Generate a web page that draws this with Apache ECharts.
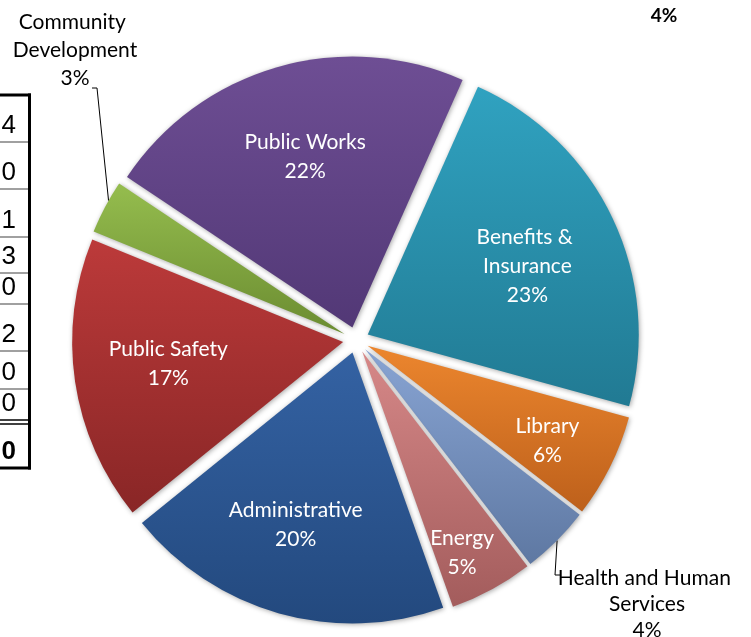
<!DOCTYPE html>
<html><head><meta charset="utf-8">
<script src="https://cdn.jsdelivr.net/npm/echarts@6/dist/echarts.min.js"></script>
<style>html,body{margin:0;padding:0;background:#fff}#c{width:751px;height:637px}</style>
</head><body><div id="c"></div>
<script>
// ---- data ----
const categories = ['Benefits & Insurance', 'Library', 'Health and Human Services', 'Energy',
  'Administrative', 'Public Safety', 'Community Development', 'Public Works'];
const shares = [22.6, 6.2, 4.1, 5.0, 19.6, 17.0, 3.2, 22.3];
const tableValues = ['4', '0', '1', '3', '0', '2', '0', '0', '0'];
const cornerNote = '4%';

// ---- styles ----
const sliceTop = ['#30A2C0', '#EC862E', '#88A4D3', '#D68888', '#3462A3', '#BC3A3A', '#95BD4E', '#6E4E94'];
const sliceBottom = ['#217A93', '#BD601B', '#5E78A2', '#A35C5C', '#23497E', '#892626', '#6B8C31', '#523876'];
const labelFrac = [0.64, 0.75, null, 0.83, 0.67, 0.65, null, 0.655];
const labelTurn = [2.3, 1.3, 0, 2.2, 2.5, 1.4, 0, 0.7];
const labelWidth = [110, null, 190, null, null, null, 135, null];
const outsideLabels = {
  2: { x: 647, y: 565, lh: 26, arcFrac: 0.49, bend: [[555, 575], [560, 575]] },
  6: { x: 75, y: 8, lh: 28, arcFrac: 0.63, bend: [[97, 88], [92, 88]] }
};

const CX = 356, CY = 340, R = 271, OFFSET = 13, START = 66;
const FONT = 'Lato';

function grad(a, b) {
  return { type: 'linear', x: 0, y: 0, x2: 0, y2: 1, colorStops: [{ offset: 0, color: a }, { offset: 1, color: b }] };
}
const total = shares.reduce((a, b) => a + b, 0);
function angleAt(i, frac) { // echarts-style degrees (ccw from east) at fraction of slice i
  let cum = 0;
  for (let k = 0; k < i; k++) cum += shares[k];
  return START - (cum + shares[i] * frac) / total * 360;
}
function dirOf(deg) { const a = deg * Math.PI / 180; return [Math.cos(a), -Math.sin(a)]; }

const pieData = categories.map((name, i) => {
  const outside = outsideLabels[i];
  const item = {
    name: name,
    value: shares[i],
    selected: true,
    itemStyle: { color: grad(sliceTop[i], sliceBottom[i]) },
    label: {
      position: outside ? 'outside' : 'inner',
      color: outside ? '#000' : '#fff',
      lineHeight: outside ? outside.lh : 29
    }
  };
  if (labelWidth[i]) { item.label.width = labelWidth[i]; item.label.overflow = 'break'; }
  if (outside) item.labelLine = { show: true, length: 10, length2: 6, lineStyle: { color: '#000', width: 1 } };
  return item;
});

// ---- table fragment on the left ----
const rowY = [95, 142, 189, 237, 273, 304, 351, 389, 420, 468];
const graphics = [];
for (let i = 1; i <= 7; i++) {
  graphics.push({ type: 'line', shape: { x1: 0, y1: rowY[i], x2: 28, y2: rowY[i] }, style: { stroke: '#A0A0A0', lineWidth: 2 } });
}
graphics.push({ type: 'line', shape: { x1: 0, y1: rowY[0], x2: 31, y2: rowY[0] }, style: { stroke: '#000', lineWidth: 3 } });
graphics.push({ type: 'line', shape: { x1: 0, y1: 420, x2: 31, y2: 420 }, style: { stroke: '#000', lineWidth: 1.5 } });
graphics.push({ type: 'line', shape: { x1: 0, y1: 424, x2: 31, y2: 424 }, style: { stroke: '#000', lineWidth: 1.5 } });
graphics.push({ type: 'line', shape: { x1: 0, y1: rowY[9], x2: 31, y2: rowY[9] }, style: { stroke: '#000', lineWidth: 3 } });
graphics.push({ type: 'line', shape: { x1: 29.5, y1: rowY[0] - 1.5, x2: 29.5, y2: rowY[9] + 1.5 }, style: { stroke: '#000', lineWidth: 3 } });
tableValues.forEach((v, i) => {
  graphics.push({
    type: 'text', x: 16, y: rowY[i + 1] - 3,
    style: { text: v, align: 'right', verticalAlign: 'bottom', fill: '#000',
      font: (i === tableValues.length - 1 ? 'bold ' : '') + '26px "Liberation Sans"' }
  });
});
graphics.push({ type: 'text', x: 664, y: 16, style: { text: cornerNote, align: 'center', verticalAlign: 'middle', fill: '#000', font: 'bold 19px Lato' } });

const chart = echarts.init(document.getElementById('c'), null, { renderer: 'canvas' });
chart.setOption({
  animation: false,
  backgroundColor: '#fff',
  graphic: graphics,
  series: [{
    type: 'pie',
    center: [CX, CY],
    radius: [0, R],
    startAngle: START,
    clockwise: true,
    percentPrecision: 0,
    selectedMode: 'multiple',
    selectedOffset: OFFSET,
    avoidLabelOverlap: false,
    silent: true,
    itemStyle: { shadowBlur: 5, shadowColor: 'rgba(0,0,0,0.35)', shadowOffsetX: 1, shadowOffsetY: 1 },
    select: { itemStyle: { borderWidth: 0 } },
    label: {
      show: true,
      formatter: '{b}\n{d}%',
      fontFamily: FONT,
      fontSize: 21,
      align: 'center'
    },
    labelLine: { show: false },
    labelLayout: function (p) {
      const i = p.dataIndex;
      const out = outsideLabels[i];
      const r = p.labelRect;
      const lx = r.x + r.width / 2;
      const ly = r.y + r.height / 2;
      const off = dirOf(angleAt(i, 0.5));
      const ox = off[0] * OFFSET, oy = off[1] * OFFSET;
      if (out) {
        const anchorX = p.align === 'right' ? r.x + r.width : (p.align === 'left' ? r.x : lx);
        const s = dirOf(angleAt(i, out.arcFrac));
        const pts = [
          [CX + s[0] * R, CY + s[1] * R],
          [out.bend[0][0] - ox, out.bend[0][1] - oy],
          [out.bend[1][0] - ox, out.bend[1][1] - oy]
        ];
        return { align: 'center', dx: out.x - anchorX - ox, dy: out.y - r.y - oy, labelLinePoints: pts };
      }
      const d = dirOf(angleAt(i, 0.5) - labelTurn[i]);
      const tx = CX + d[0] * labelFrac[i] * R;
      const ty = CY + d[1] * labelFrac[i] * R;
      return { dx: tx - lx, dy: ty - ly };
    },
    data: pieData
  }]
});
</script>
</body></html>
